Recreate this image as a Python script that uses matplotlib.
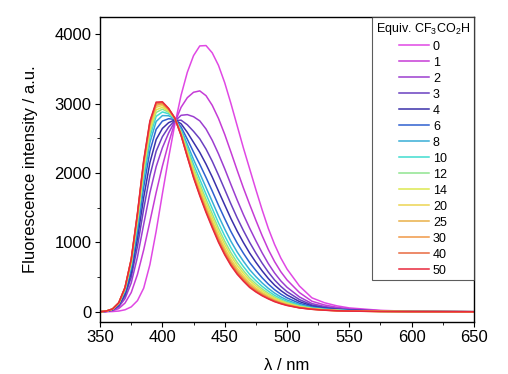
import matplotlib
matplotlib.use('Agg')
import matplotlib.pyplot as plt
from matplotlib.ticker import MultipleLocator

matplotlib.rcParams.update({
    'font.family': ['Liberation Sans', 'DejaVu Sans'],
    'font.size': 12,
    'mathtext.default': 'regular',
    'axes.linewidth': 1.0,
    'xtick.direction': 'out',
    'ytick.direction': 'out',
    'xtick.major.size': 3.5,
    'ytick.major.size': 3.5,
    'xtick.minor.size': 2,
    'ytick.minor.size': 2,
    'xtick.major.pad': 2.5,
    'ytick.major.pad': 2.5,
    'xtick.minor.visible': True,
    'ytick.minor.visible': True,
})

# wavelength grid, nm
wavelength = [350, 355, 360, 365, 370, 375, 380, 385, 390, 395, 400, 405,
              410, 415, 420, 425, 430, 435, 440, 445, 450, 455, 460, 465,
              470, 475, 480, 485, 490, 495, 500, 510, 520, 530, 540, 550,
              575, 600, 650]

equiv = ['0', '1', '2', '3', '4', '6', '8', '10', '12', '14', '20', '25',
         '30', '40', '50']

# fluorescence intensity (a.u.) for each equivalent of CF3CO2H
eq0 = [0, 0, 3, 10, 28, 70, 160, 340, 680, 1160, 1700, 2220, 2700, 3120,
       3450, 3690, 3830, 3835, 3730, 3550, 3300, 3000, 2680, 2360, 2060,
       1760, 1470, 1200, 970, 775, 615, 370, 200, 130, 85, 55, 20, 6, 0]
eq1 = [0, 3, 14, 46, 125, 277, 538, 892, 1301, 1718, 2098, 2433, 2727,
       2946, 3084, 3162, 3182, 3113, 2974, 2785, 2556, 2300, 2038, 1784,
       1547, 1318, 1098, 896, 723, 577, 458, 276, 151, 98, 64, 41, 15, 5, 0]
eq2 = [0, 5, 22, 70, 189, 415, 790, 1260, 1715, 2090, 2363, 2575, 2745,
       2830, 2840, 2810, 2750, 2633, 2470, 2275, 2060, 1833, 1610, 1400,
       1205, 1023, 850, 693, 558, 445, 353, 213, 118, 76, 50, 32, 12, 4, 0]
eq3 = [0, 6, 26, 84, 228, 498, 941, 1481, 1963, 2313, 2522, 2660, 2756,
       2760, 2694, 2599, 2491, 2344, 2168, 1969, 1762, 1552, 1353, 1170,
       1000, 845, 701, 571, 458, 366, 289, 175, 98, 63, 41, 26, 10, 4, 0]
eq4 = [0, 7, 29, 95, 257, 560, 1055, 1646, 2150, 2481, 2641, 2724, 2764,
       2708, 2584, 2440, 2296, 2127, 1941, 1739, 1539, 1342, 1161, 997,
       846, 713, 590, 479, 384, 306, 242, 146, 83, 53, 35, 22, 9, 3, 0]
eq6 = [0, 8, 32, 105, 282, 615, 1155, 1794, 2315, 2629, 2747, 2781, 2771,
       2662, 2486, 2300, 2124, 1935, 1739, 1535, 1341, 1155, 989, 843,
       709, 595, 490, 398, 318, 254, 200, 121, 70, 45, 29, 19, 7, 3, 0]
eq8 = [0, 9, 34, 112, 302, 657, 1231, 1904, 2440, 2741, 2826, 2824, 2777,
       2627, 2413, 2194, 1994, 1791, 1588, 1382, 1192, 1015, 861, 728,
       606, 506, 416, 337, 269, 214, 169, 102, 60, 38, 25, 16, 6, 3, 0]
eq10 = [0, 9, 36, 117, 315, 684, 1281, 1978, 2522, 2815, 2879, 2852, 2780,
        2604, 2364, 2124, 1908, 1695, 1487, 1280, 1093, 922, 775, 651,
        538, 447, 366, 297, 236, 188, 148, 90, 53, 34, 22, 14, 6, 2, 0]
eq12 = [0, 9, 37, 120, 324, 705, 1319, 2033, 2584, 2871, 2919, 2873, 2783,
        2586, 2328, 2071, 1843, 1622, 1412, 1204, 1018, 852, 711, 594,
        487, 403, 329, 266, 211, 168, 132, 80, 48, 31, 20, 13, 5, 2, 0]
eq14 = [0, 9, 38, 123, 331, 719, 1344, 2070, 2626, 2908, 2946, 2887, 2785,
        2575, 2303, 2036, 1800, 1574, 1361, 1153, 969, 805, 668, 555,
        453, 373, 304, 246, 194, 155, 121, 74, 45, 28, 18, 12, 5, 2, 0]
eq20 = [0, 10, 39, 125, 337, 732, 1370, 2106, 2667, 2946, 2972, 2902, 2786,
        2563, 2279, 2000, 1756, 1526, 1311, 1102, 919, 758, 626, 517,
        418, 344, 280, 226, 178, 141, 111, 68, 42, 26, 17, 11, 5, 2, 0]
eq25 = [0, 10, 39, 127, 342, 743, 1389, 2134, 2698, 2974, 2992, 2912, 2788,
        2554, 2260, 1974, 1724, 1490, 1273, 1064, 882, 723, 593, 488,
        393, 322, 261, 210, 166, 131, 103, 63, 39, 25, 16, 10, 4, 2, 0]
eq30 = [0, 10, 39, 128, 345, 750, 1401, 2152, 2719, 2992, 3005, 2919, 2789,
        2549, 2248, 1956, 1702, 1466, 1248, 1038, 857, 700, 572, 469,
        376, 307, 249, 200, 157, 125, 98, 60, 37, 24, 15, 10, 4, 2, 0]
eq40 = [0, 10, 40, 129, 348, 755, 1411, 2167, 2736, 3007, 3016, 2925, 2789,
        2544, 2239, 1942, 1685, 1447, 1228, 1018, 837, 681, 555, 453,
        362, 295, 239, 192, 151, 120, 94, 57, 36, 23, 14, 9, 4, 2, 0]
eq50 = [0, 10, 40, 130, 350, 760, 1420, 2180, 2750, 3020, 3025, 2930, 2790,
        2540, 2230, 1930, 1670, 1430, 1210, 1000, 820, 665, 540, 440,
        350, 285, 230, 185, 145, 115, 90, 55, 35, 22, 14, 9, 4, 2, 0]

spectra = [eq0, eq1, eq2, eq3, eq4, eq6, eq8, eq10, eq12, eq14, eq20, eq25,
           eq30, eq40, eq50]

colors = ['#e048e4', '#c63cd6', '#9c3ed0', '#6a40c0', '#3a30aa', '#2f60d0',
          '#38aed6', '#40dcd0', '#90e490', '#dce850', '#ecd452', '#eab048',
          '#f09846', '#e86a40', '#e8283c']

fig = plt.figure(figsize=(5.08, 3.74), dpi=100)
ax = fig.add_axes([0.197, 0.139, 0.736, 0.816])

for y, label, color in zip(spectra, equiv, colors):
    ax.plot(wavelength, y, color=color, linewidth=1.1, label=label)

ax.set_xlim(350, 650)
ax.set_ylim(-148, 4249)
ax.xaxis.set_major_locator(MultipleLocator(50))
ax.xaxis.set_minor_locator(MultipleLocator(25))
ax.yaxis.set_major_locator(MultipleLocator(1000))
ax.yaxis.set_minor_locator(MultipleLocator(500))
ax.set_xlabel('λ / nm', labelpad=9)
ax.set_ylabel('Fluorescence intensity / a.u.', labelpad=12)

legend = ax.legend(title='Equiv. CF$_3$CO$_2$H', loc='upper right',
                   borderaxespad=0, fontsize=9, title_fontsize=9,
                   fancybox=False, handlelength=2.4, handletextpad=0.3,
                   labelspacing=0.32, borderpad=0.3)
legend.get_frame().set_edgecolor('#333333')
legend.get_frame().set_linewidth(0.8)

fig.savefig('out.png', dpi=100)
